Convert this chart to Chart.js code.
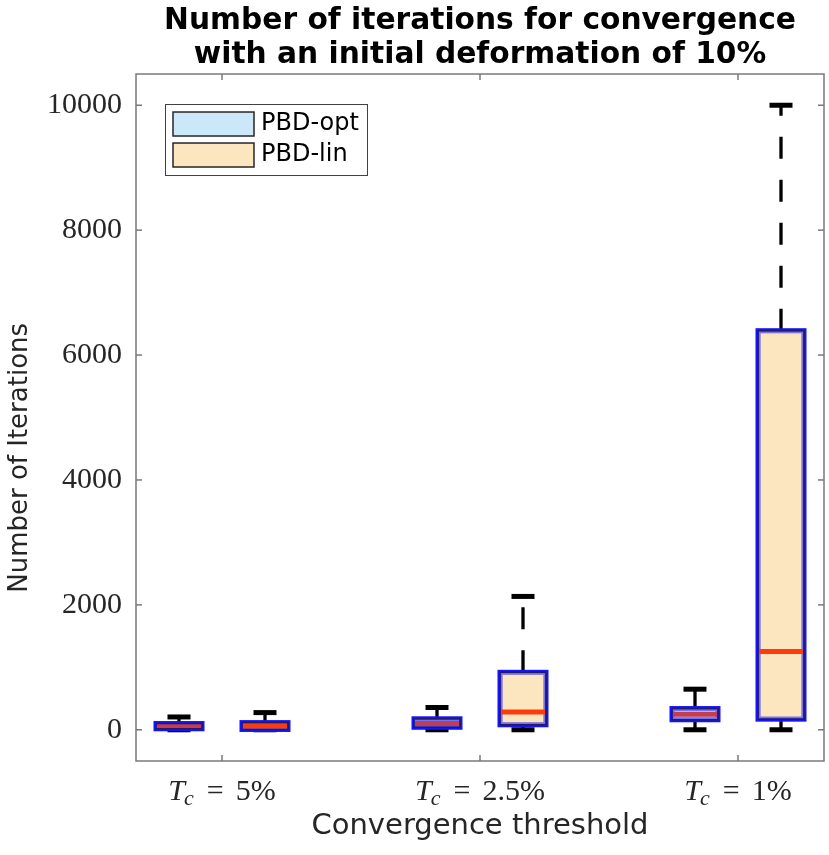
<!DOCTYPE html>
<html><head><meta charset="utf-8">
<script src="https://cdn.jsdelivr.net/npm/chart.js@4.4.1/dist/chart.umd.min.js"></script>
<style>html,body{margin:0;padding:0;background:#fff;}canvas{display:block;}</style>
</head><body>
<canvas id="c" width="829" height="855" style="width:829px;height:855px"></canvas>
<script>
// ---------- data ----------
const TICK_LABELS = ['T_c = 5%', 'T_c = 2.5%', 'T_c = 1%'];
const CATEGORY_POS = [1, 2, 3];
const SERIES_NAMES = ['PBD-opt', 'PBD-lin'];
const Y_TICKS = [0, 2000, 4000, 6000, 8000, 10000];
const Y_TITLE = 'Number of Iterations';

const OPT_MIN = [0, 0, 0];
const OPT_Q1  = [16, 40, 160];
const OPT_MED = [56, 100, 250];
const OPT_Q3  = [100, 176, 340];
const OPT_MAX = [205, 357, 650];

const LIN_MIN = [0, 0, 0];
const LIN_Q1  = [5, 80, 170];
const LIN_MED = [60, 283, 1253];
const LIN_Q3  = [115, 920, 6390];
const LIN_MAX = [275, 2135, 10000];

// ---------- styling ----------
const OFFSETS = [-1/6, 1/6];
const STATS = [
  {min: OPT_MIN, q1: OPT_Q1, med: OPT_MED, q3: OPT_Q3, max: OPT_MAX},
  {min: LIN_MIN, q1: LIN_Q1, med: LIN_MED, q3: LIN_Q3, max: LIN_MAX}
];
const STYLE = [
  {fill: '#cbe8f8', band: 'rgba(203,232,248,0.45)', median: '#c83a4e'},
  {fill: '#fbe6c0', band: 'rgba(251,230,192,0.45)', median: '#ff3b0c'}
];
const AXIS_COLOR = '#7a7a7a';
const TEXT_COLOR = '#262626';

function seg(ctx, x1, y1, x2, y2) { ctx.beginPath(); ctx.moveTo(x1, y1); ctx.lineTo(x2, y2); ctx.stroke(); }

const boxParts = {
  id: 'boxParts',
  beforeDatasetsDraw(chart) {
    const {ctx, scales: {y}} = chart;
    ctx.save();
    ctx.strokeStyle = '#000';
    ctx.lineCap = 'butt';
    chart.data.datasets.forEach((ds, k) => {
      const st = STATS[k];
      chart.getDatasetMeta(k).data.forEach((bar, i) => {
        const {x: cx, width} = bar.getProps(['x', 'width'], true);
        const pQ1 = y.getPixelForValue(st.q1[i]), pQ3 = y.getPixelForValue(st.q3[i]);
        const pMin = y.getPixelForValue(st.min[i]), pMax = y.getPixelForValue(st.max[i]);
        ctx.lineWidth = 3.3; ctx.setLineDash([22, 21]);
        seg(ctx, cx, pQ3, cx, pMax);
        seg(ctx, cx, pQ1, cx, pMin);
        ctx.setLineDash([]); ctx.lineWidth = 5;
        const hw = width / 4;
        seg(ctx, cx - hw, pMax, cx + hw, pMax);
        seg(ctx, cx - hw, pMin, cx + hw, pMin);
      });
    });
    ctx.restore();
  },
  afterDatasetsDraw(chart) {
    const {ctx, scales: {y}} = chart;
    ctx.save();
    chart.data.datasets.forEach((ds, k) => {
      const st = STATS[k];
      chart.getDatasetMeta(k).data.forEach((bar, i) => {
        const {x: cx, y: yy, base, width} = bar.getProps(['x', 'y', 'base', 'width'], true);
        const l = cx - width / 2, r = cx + width / 2;
        const t = Math.min(yy, base), b = Math.max(yy, base);
        ctx.lineWidth = 5; ctx.strokeStyle = '#1414ff';
        ctx.strokeRect(l, t, r - l, b - t);
        ctx.lineWidth = 2; ctx.strokeStyle = STYLE[k].band;
        if (b - t > 4) ctx.strokeRect(l + 1.6, t + 1.6, r - l - 3.2, b - t - 3.2);
        const pMed = y.getPixelForValue(st.med[i]);
        ctx.lineWidth = 5; ctx.strokeStyle = STYLE[k].median;
        seg(ctx, l + 1, pMed, r - 1, pMed);
        ctx.lineWidth = 1.5; ctx.strokeStyle = '#221a66';
        ctx.strokeRect(l, t, r - l, b - t);
      });
    });
    ctx.restore();
  }
};

const frame = {
  id: 'frame',
  afterDraw(chart) {
    const {ctx, chartArea: a, scales: {x, y}} = chart;
    ctx.save();
    ctx.strokeStyle = AXIS_COLOR; ctx.lineWidth = 1.5;
    ctx.strokeRect(a.left, a.top, a.right - a.left, a.bottom - a.top);
    const TL = 6;
    y.ticks.forEach(t => {
      const py = y.getPixelForValue(t.value);
      seg(ctx, a.left, py, a.left + TL, py);
      seg(ctx, a.right, py, a.right - TL, py);
    });
    x.ticks.forEach(t => {
      const px = x.getPixelForValue(t.value);
      seg(ctx, px, a.bottom, px, a.bottom - TL);
      seg(ctx, px, a.top, px, a.top + TL);
    });
    // y axis title
    ctx.save();
    ctx.translate(20.5, y.getPixelForValue(2000) - 147);
    ctx.rotate(-Math.PI / 2);
    ctx.font = '26px "DejaVu Sans"'; ctx.fillStyle = TEXT_COLOR;
    ctx.textAlign = 'center'; ctx.textBaseline = 'middle';
    ctx.fillText(Y_TITLE, 0, 0);
    ctx.restore();
    // x tick labels with italic T and subscript c
    ctx.fillStyle = TEXT_COLOR;
    ctx.textBaseline = 'alphabetic';
    CATEGORY_POS.forEach((pos, i) => {
      const lab = TICK_LABELS[i];
      const m = lab.match(/^(\w)_(\w)\s*=\s*(.*)$/);
      const mainF = 'italic 30px "Liberation Serif"', subF = 'italic 22px "Liberation Serif"', romF = '30px "Liberation Serif"';
      const G = 12;
      ctx.font = mainF; const w1 = ctx.measureText(m[1]).width;
      ctx.font = subF; const w2 = ctx.measureText(m[2]).width;
      ctx.font = romF; const wEq = ctx.measureText('=').width, wR = ctx.measureText(m[3]).width;
      const total = w1 + w2 + G + wEq + G + wR;
      let sx = x.getPixelForValue(pos) - total / 2;
      const by = a.bottom + 39;
      ctx.textAlign = 'left';
      ctx.font = mainF; ctx.fillText(m[1], sx, by); sx += w1;
      ctx.font = subF; ctx.fillText(m[2], sx - 1, by + 5); sx += w2 + G;
      ctx.font = romF; ctx.fillText('=', sx, by); sx += wEq + G;
      ctx.fillText(m[3], sx, by);
    });
    // legend
    const L = a.left + 29, T = a.top + 30, W = 202, H = 71;
    ctx.fillStyle = '#fff'; ctx.fillRect(L, T, W, H);
    ctx.strokeStyle = '#404040'; ctx.lineWidth = 1; ctx.strokeRect(L + 0.5, T + 0.5, W, H);
    chart.data.datasets.forEach((ds, k) => {
      const sy = T + 8 + k * 31;
      ctx.fillStyle = STYLE[k].fill; ctx.fillRect(L + 8, sy, 81, 24);
      ctx.strokeStyle = '#262626'; ctx.lineWidth = 1.5; ctx.strokeRect(L + 8, sy, 81, 24);
      ctx.fillStyle = '#000'; ctx.font = '24px "DejaVu Sans"'; ctx.textBaseline = 'middle'; ctx.textAlign = 'left';
      ctx.fillText(ds.label, L + 96, sy + 12);
    });
    ctx.restore();
  }
};

new Chart(document.getElementById('c'), {
  type: 'bar',
  data: {
    datasets: SERIES_NAMES.map((name, k) => ({
      label: name,
      data: CATEGORY_POS.map((c, i) => ({x: c + OFFSETS[k], y: [STATS[k].q1[i], STATS[k].q3[i]]})),
      backgroundColor: STYLE[k].fill,
      borderWidth: 0,
      barThickness: 46,
      grouped: false
    }))
  },
  options: {
    responsive: false,
    animation: false,
    devicePixelRatio: 1,
    layout: {padding: {left: 0, right: 5, top: 0, bottom: 0}},
    plugins: {
      legend: {display: false},
      tooltip: {enabled: false},
      title: {
        display: true, fullSize: false,
        text: ['Number of iterations for convergence', 'with an initial deformation of 10%'],
        font: {family: 'DejaVu Sans', size: 29.7, weight: 'bold', lineHeight: 1.145},
        color: '#000', padding: {top: 4, bottom: 2}
      }
    },
    scales: {
      x: {
        type: 'linear', min: 2/3, max: 10/3, offset: false,
        grid: {display: false, drawTicks: false}, border: {display: false},
        ticks: {display: false},
        afterBuildTicks(s) { s.ticks = CATEGORY_POS.map(v => ({value: v})); },
        afterFit(s) { s.height = 94; },
        title: {display: true, text: 'Convergence threshold', color: TEXT_COLOR,
          font: {family: 'DejaVu Sans', size: 29}, padding: {top: 0, bottom: 10.9}}
      },
      y: {
        min: -500, max: 10500,
        grid: {display: false, drawTicks: false}, border: {display: false},
        afterBuildTicks(s) { s.ticks = Y_TICKS.map(v => ({value: v})); },
        afterFit(s) { s.width = 136; },
        ticks: {font: {family: 'Liberation Serif', size: 30}, color: TEXT_COLOR, padding: 14,
          callback: v => String(v)},
        title: {display: false}
      }
    }
  },
  plugins: [boxParts, frame]
});
</script>
</body></html>
